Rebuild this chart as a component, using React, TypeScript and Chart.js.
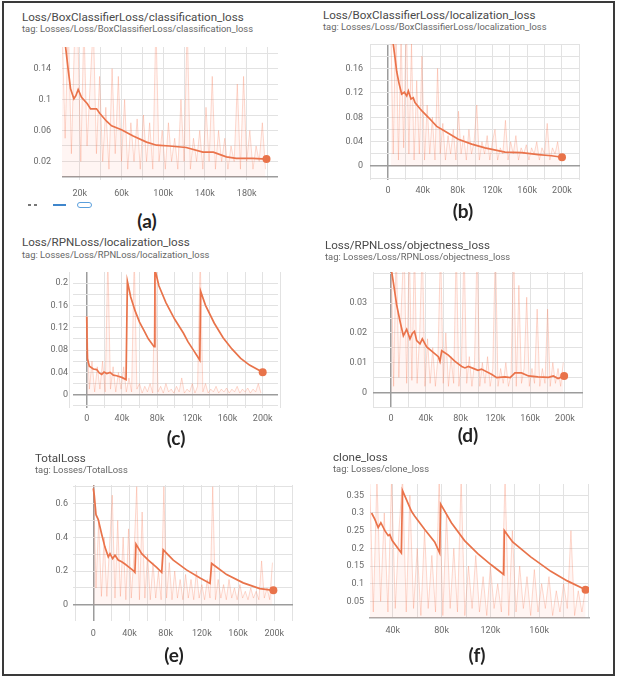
import React, { useEffect, useRef } from "react";
import { Chart, registerables } from "chart.js";
Chart.register(...registerables);

// ---------- DATA (x in thousands of steps) ----------
// (a) BoxClassifierLoss / classification_loss
const stepsA = [5, 8.9, 11.2, 14.4, 16.3, 18.5, 21.7, 27.1, 30.4, 36.1, 39.3, 45.7, 50.5, 60, 71.2, 84, 93.6, 106, 122, 138, 148, 160.5, 170, 186, 199];
const valsA = [0.185, 0.139, 0.114, 0.101, 0.105, 0.113, 0.103, 0.095, 0.088, 0.088, 0.082, 0.072, 0.066, 0.061, 0.053, 0.045, 0.041, 0.04, 0.038, 0.032, 0.032, 0.026, 0.024, 0.024, 0.023];
const rawStartA = 3;
const rawStepA = 3;
const rawA = [0.2, 0.05, 0.2, 0.03, 0.18, 0.2, 0.02, 0.2, 0.04, 0.12, 0.2, 0.03, 0.13, 0.02, 0.09, 0.01, 0.14, 0.03, 0.13, 0.02, 0.1, 0.01, 0.07, 0.02, 0.075, 0.01, 0.08, 0.02, 0.07, 0.01, 0.2, 0.02, 0.06, 0.01, 0.07, 0.02, 0.05, 0.01, 0.1, 0.02, 0.2, 0.01, 0.05, 0.02, 0.06, 0.01, 0.09, 0.02, 0.13, 0.01, 0.06, 0.02, 0.05, 0.01, 0.04, 0.02, 0.12, 0.01, 0.13, 0.02, 0.06, 0.01, 0.04, 0.02, 0.07, 0.01];

// (b) BoxClassifierLoss / localization_loss
const stepsB = [4, 6, 8, 10, 12.6, 15.7, 18.8, 21.5, 23.4, 26.4, 29, 31, 36.8, 38.7, 46.3, 56, 65.5, 80.8, 96.2, 111.5, 134.5, 153.7, 172.8, 188, 200];
const valsB = [0.24, 0.2, 0.178, 0.155, 0.136, 0.118, 0.121, 0.115, 0.123, 0.11, 0.112, 0.104, 0.094, 0.091, 0.08, 0.065, 0.057, 0.044, 0.036, 0.03, 0.023, 0.022, 0.019, 0.017, 0.0145];
const rawStartB = 3;
const rawStepB = 3;
const rawB = [0.25, 0.02, 0.25, 0.01, 0.22, 0.03, 0.25, 0.02, 0.2, 0.01, 0.14, 0.02, 0.18, 0.01, 0.1, 0.02, 0.08, 0.01, 0.16, 0.02, 0.07, 0.01, 0.05, 0.02, 0.06, 0.01, 0.09, 0.02, 0.05, 0.01, 0.06, 0.02, 0.04, 0.1, 0.01, 0.04, 0.02, 0.05, 0.01, 0.04, 0.06, 0.01, 0.03, 0.02, 0.075, 0.01, 0.04, 0.02, 0.05, 0.01, 0.03, 0.02, 0.035, 0.01, 0.03, 0.02, 0.04, 0.01, 0.03, 0.02, 0.07, 0.01, 0.03, 0.02, 0.04, 0.01];

// (c) RPNLoss / localization_loss
const stepsC = [0, 0.7, 3, 7.5, 11.4, 14.3, 17, 19.7, 22.7, 26.5, 30.3, 34, 39.8, 44.7, 46.2, 50, 55, 60, 65, 70, 76.5, 77.5, 82, 90, 100, 110, 115, 122, 128.5, 129.5, 135, 145, 155, 165, 175, 185, 200];
const valsC = [0.14, 0.065, 0.051, 0.046, 0.045, 0.039, 0.0365, 0.0405, 0.038, 0.04, 0.035, 0.034, 0.031, 0.027, 0.203, 0.175, 0.15, 0.13, 0.115, 0.1, 0.086, 0.225, 0.195, 0.165, 0.135, 0.11, 0.095, 0.078, 0.062, 0.185, 0.16, 0.128, 0.102, 0.082, 0.065, 0.053, 0.04];
const rawStartC = 0;
const rawStepC = 3;
const rawC = [0.14, 0.01, 0.06, 0.005, 0.05, 0.01, 0.06, 0.005, 0.25, 0.01, 0.05, 0.005, 0.04, 0.01, 0.05, 0.005, 0.03, 0.005, 0.25, 0.01, 0.02, 0.003, 0.015, 0.005, 0.02, 0.003, 0.25, 0.005, 0.015, 0.003, 0.02, 0.005, 0.01, 0.003, 0.015, 0.005, 0.03, 0.003, 0.01, 0.005, 0.02, 0.003, 0.015, 0.25, 0.005, 0.02, 0.003, 0.01, 0.005, 0.015, 0.003, 0.01, 0.005, 0.012, 0.003, 0.01, 0.005, 0.015, 0.003, 0.01, 0.005, 0.012, 0.003, 0.01, 0.005, 0.02, 0.003];

// (d) RPNLoss / objectness_loss
const stepsD = [0, 2.7, 6.5, 10.3, 14.2, 18, 21.8, 24.5, 27, 29.5, 33.3, 36, 41, 54.4, 56.3, 58.3, 65.9, 73.6, 81.3, 85, 88.9, 96.6, 100, 104, 116, 121.5, 131, 137, 142.5, 150, 158, 169, 181, 186.6, 192, 199];
const valsD = [0.042, 0.037, 0.0294, 0.024, 0.019, 0.0212, 0.018, 0.0198, 0.0205, 0.0174, 0.0163, 0.018, 0.0153, 0.012, 0.0104, 0.014, 0.0125, 0.0104, 0.0087, 0.0082, 0.0087, 0.0078, 0.0074, 0.0078, 0.006, 0.0049, 0.0052, 0.0049, 0.0065, 0.0065, 0.0055, 0.0052, 0.005, 0.0055, 0.0046, 0.0055];
const rawStartD = 0;
const rawStepD = 3;
const rawD = [0.05, 0.002, 0.05, 0.005, 0.03, 0.05, 0.003, 0.05, 0.004, 0.05, 0.003, 0.02, 0.05, 0.002, 0.018, 0.003, 0.015, 0.002, 0.012, 0.05, 0.003, 0.02, 0.002, 0.012, 0.003, 0.05, 0.002, 0.01, 0.05, 0.003, 0.012, 0.002, 0.01, 0.05, 0.002, 0.01, 0.003, 0.012, 0.002, 0.008, 0.05, 0.002, 0.008, 0.003, 0.01, 0.002, 0.006, 0.05, 0.002, 0.036, 0.003, 0.008, 0.032, 0.002, 0.008, 0.003, 0.028, 0.002, 0.008, 0.003, 0.028, 0.002, 0.01, 0.003, 0.008, 0.002, 0.01];

// (e) TotalLoss
const stepsE = [0, 1.1, 3, 5.5, 9.3, 12.9, 16.6, 18.5, 21.4, 24, 27.6, 31.4, 35, 38.7, 44.2, 46, 47.2, 53.5, 60.8, 70, 75.6, 77.3, 88.4, 103, 118, 129, 130.8, 147.4, 165.7, 184, 199];
const valsE = [0.69, 0.65, 0.534, 0.505, 0.418, 0.342, 0.284, 0.303, 0.274, 0.294, 0.265, 0.255, 0.242, 0.226, 0.203, 0.192, 0.36, 0.303, 0.265, 0.222, 0.192, 0.326, 0.265, 0.207, 0.159, 0.127, 0.245, 0.179, 0.13, 0.096, 0.086];
const rawStartE = 0;
const rawStepE = 3;
const rawE = [0.8, 0.1, 0.5, 0.05, 0.4, 0.05, 0.35, 0.65, 0.04, 0.5, 0.05, 0.4, 0.03, 0.45, 0.04, 0.3, 0.7, 0.03, 0.55, 0.04, 0.3, 0.03, 0.25, 0.04, 0.2, 0.03, 0.7, 0.04, 0.25, 0.03, 0.2, 0.04, 0.15, 0.03, 0.18, 0.04, 0.15, 0.03, 0.2, 0.04, 0.12, 0.03, 0.15, 0.04, 0.7, 0.03, 0.15, 0.04, 0.12, 0.03, 0.15, 0.04, 0.1, 0.03, 0.12, 0.04, 0.08, 0.03, 0.1, 0.04, 0.08, 0.03, 0.26, 0.04, 0.1, 0.03, 0.25];

// (f) clone_loss
const stepsF = [22.6, 25.3, 28, 30.2, 33.5, 36.2, 37.5, 39.5, 47, 47.9, 55.3, 58, 66, 74.3, 78.4, 79.2, 88, 98.8, 109.6, 120.6, 130.9, 131.4, 138.2, 153, 169.5, 183, 198];
const valsF = [0.3, 0.282, 0.259, 0.2725, 0.25, 0.236, 0.239, 0.222, 0.187, 0.364, 0.305, 0.291, 0.254, 0.218, 0.187, 0.325, 0.2725, 0.222, 0.185, 0.1535, 0.126, 0.25, 0.218, 0.176, 0.135, 0.108, 0.083];
const rawStartF = 21;
const rawStepF = 3;
const rawF = [0.4, 0.02, 0.4, 0.05, 0.3, 0.02, 0.4, 0.03, 0.25, 0.4, 0.02, 0.35, 0.03, 0.2, 0.01, 0.25, 0.03, 0.18, 0.02, 0.4, 0.01, 0.3, 0.03, 0.2, 0.02, 0.4, 0.01, 0.15, 0.03, 0.18, 0.02, 0.12, 0.01, 0.15, 0.03, 0.1, 0.02, 0.4, 0.01, 0.25, 0.02, 0.15, 0.03, 0.12, 0.01, 0.14, 0.02, 0.1, 0.03, 0.12, 0.01, 0.08, 0.02, 0.1, 0.03, 0.25, 0.01, 0.08, 0.02, 0.09];

// ticks / grid
const xGridA = [20, 40, 60, 80, 100, 120, 140, 160, 180, 200];
const xLabelsA = [20, 60, 100, 140, 180];
const yGridA = [0, 0.02, 0.04, 0.06, 0.08, 0.1, 0.12, 0.14, 0.16];
const yLabelsA = [0.02, 0.06, 0.1, 0.14];

const xGridFull = [-20, 0, 20, 40, 60, 80, 100, 120, 140, 160, 180, 200, 220];
const xLabelsFull = [0, 40, 80, 120, 160, 200];

const yGridB = [-0.02, 0, 0.02, 0.04, 0.06, 0.08, 0.1, 0.12, 0.14, 0.16, 0.18, 0.2];
const yLabelsB = [0, 0.04, 0.08, 0.12, 0.16];

const yGridC = [-0.02, 0, 0.02, 0.04, 0.06, 0.08, 0.1, 0.12, 0.14, 0.16, 0.18, 0.2];
const yLabelsC = [0, 0.04, 0.08, 0.12, 0.16, 0.2];

const yGridD = [-0.005, 0, 0.005, 0.01, 0.015, 0.02, 0.025, 0.03, 0.035, 0.04];
const yLabelsD = [0, 0.01, 0.02, 0.03];

const yGridE = [0, 0.1, 0.2, 0.3, 0.4, 0.5, 0.6, 0.7];
const yLabelsE = [0, 0.2, 0.4, 0.6];

const xGridF = [40, 60, 80, 100, 120, 140, 160, 180, 200];
const xLabelsF = [40, 80, 120, 160];
const yGridF = [0.05, 0.1, 0.15, 0.2, 0.25, 0.3, 0.35];
const yLabelsF = [0.05, 0.1, 0.15, 0.2, 0.25, 0.3, 0.35];

// ---------- STYLE ----------
const ORANGE = "#e8734a";
const RAW = "rgba(248,120,82,0.27)";
const RAW_FILL = "rgba(248,120,82,0.07)";
const GRID = "#e2e2e2";
const ZERO = "#9c9c9c";
const FONT = "Roboto, 'DejaVu Sans', sans-serif";

type Spec = {
  key: string;
  title: string;
  tag: string;
  caption: string;
  titleX: number;
  titleY: number;
  tagY: number;
  capX: number;
  capY: number;
  area: [number, number, number, number]; // L T R B
  xMin: number; xMax: number; yMin: number; yMax: number;
  steps: number[]; vals: number[];
  rawStart: number; rawStep: number; raw: number[];
  xGrid: number[]; xLabels: number[]; yGrid: number[]; yLabels: number[];
  yPad: number; xPad: number; bottomBorder?: boolean;
};

const specs: Spec[] = [
  { key: "a", title: "Loss/BoxClassifierLoss/classification_loss", tag: "tag: Losses/Loss/BoxClassifierLoss/classification_loss", caption: "(a)",
    titleX: 22, titleY: 16.5, tagY: 29, capX: 147, capY: 221, area: [62, 43, 278, 180],
    xMin: 3, xMax: 210, yMin: -0.004, yMax: 0.168, steps: stepsA, vals: valsA, rawStart: rawStartA, rawStep: rawStepA, raw: rawA,
    xGrid: xGridA, xLabels: xLabelsA, yGrid: yGridA, yLabels: yLabelsA, yPad: 11, xPad: 8 },
  { key: "b", title: "Loss/BoxClassifierLoss/localization_loss", tag: "tag: Losses/Loss/BoxClassifierLoss/localization_loss", caption: "(b)",
    titleX: 323, titleY: 15, tagY: 27, capX: 463, capY: 211, area: [370, 40, 580, 180],
    xMin: -20.7, xMax: 220.7, yMin: -0.0227, yMax: 0.2, steps: stepsB, vals: valsB, rawStart: rawStartB, rawStep: rawStepB, raw: rawB,
    xGrid: xGridFull, xLabels: xLabelsFull, yGrid: yGridB, yLabels: yLabelsB, yPad: 7, xPad: 5 },
  { key: "c", title: "Loss/RPNLoss/localization_loss", tag: "tag: Losses/Loss/RPNLoss/localization_loss", caption: "(c)",
    titleX: 22, titleY: 242, tagY: 255, capX: 176, capY: 438, area: [73, 268, 278, 408],
    xMin: -15.6, xMax: 217.4, yMin: -0.0238, yMax: 0.2197, steps: stepsC, vals: valsC, rawStart: rawStartC, rawStep: rawStepC, raw: rawC,
    xGrid: xGridFull, xLabels: xLabelsFull, yGrid: yGridC, yLabels: yLabelsC, yPad: 5, xPad: 5 },
  { key: "d", title: "Loss/RPNLoss/objectness_loss", tag: "tag: Losses/Loss/RPNLoss/objectness_loss", caption: "(d)",
    titleX: 325, titleY: 245, tagY: 257, capX: 468, capY: 435, area: [373, 268, 583, 408],
    xMin: -20.7, xMax: 220.7, yMin: -0.0053, yMax: 0.0405, steps: stepsD, vals: valsD, rawStart: rawStartD, rawStep: rawStepD, raw: rawD,
    xGrid: xGridFull, xLabels: xLabelsFull, yGrid: yGridD, yLabels: yLabelsD, yPad: 6, xPad: 5 },
  { key: "e", title: "TotalLoss", tag: "tag: Losses/TotalLoss", caption: "(e)",
    titleX: 35, titleY: 458, tagY: 470, capX: 174, capY: 655, area: [73, 481, 293, 621],
    xMin: -22.4, xMax: 220.7, yMin: -0.096, yMax: 0.71, steps: stepsE, vals: valsE, rawStart: rawStartE, rawStep: rawStepE, raw: rawE,
    xGrid: xGridFull, xLabels: xLabelsFull, yGrid: yGridE, yLabels: yLabelsE, yPad: 5, xPad: 7 },
  { key: "f", title: "clone_loss", tag: "tag: Losses/clone_loss", caption: "(f)",
    titleX: 333, titleY: 457, tagY: 469, capX: 477, capY: 655, area: [370, 480, 589, 618],
    xMin: 21.3, xMax: 200.8, yMin: 0.003, yMax: 0.382, steps: stepsF, vals: valsF, rawStart: rawStartF, rawStep: rawStepF, raw: rawF,
    xGrid: xGridF, xLabels: xLabelsF, yGrid: yGridF, yLabels: yLabelsF, yPad: 6, xPad: 7, bottomBorder: true },
];

const Y_W = 40;
const X_H = 26;
const PAD_R = 4;

const hasVal = (arr: number[], v: number) => arr.some((a) => Math.abs(a - v) < 1e-9);
const fmtY = (v: number) => String(Number(v.toFixed(4)));
const fmtX = (v: number) => (Math.abs(v) < 1e-9 ? "0" : `${Math.round(v)}k`);

function Plot({ s }: { s: Spec }) {
  const ref = useRef<HTMLCanvasElement>(null);
  const [L, T, R, B] = s.area;
  const w = R - L + Y_W + PAD_R;
  const h = B - T + X_H;
  useEffect(() => {
    const rawPts = s.raw.map((v, i) => ({ x: s.rawStart + i * s.rawStep, y: v }));
    const smPts = s.steps.map((x, i) => ({ x, y: s.vals[i] }));
    const last = smPts.length - 1;
    const chart = new Chart(ref.current as HTMLCanvasElement, {
      type: "line",
      data: {
        datasets: [
          { data: rawPts, borderColor: RAW, backgroundColor: RAW_FILL, borderWidth: 1, pointRadius: 0, tension: 0, fill: "origin" },
          {
            data: smPts, borderColor: ORANGE, borderWidth: 1.7, tension: 0, fill: false,
            pointRadius: (ctx: any) => (ctx.dataIndex === last ? 4 : 0),
            pointBackgroundColor: ORANGE, pointBorderWidth: 0, pointBorderColor: ORANGE,
          },
        ],
      },
      options: {
        animation: false,
        responsive: false,
        devicePixelRatio: 1,
        layout: { padding: { top: 0, left: 0, right: PAD_R, bottom: 0 } },
        plugins: { legend: { display: false }, tooltip: { enabled: false } },
        scales: {
          x: {
            type: "linear", min: s.xMin, max: s.xMax,
            afterFit: (sc: any) => { sc.height = X_H; sc.paddingLeft = 0; sc.paddingRight = 0; },
            afterBuildTicks: (sc: any) => { sc.ticks = s.xGrid.map((v) => ({ value: v })); },
            grid: {
              drawTicks: false,
              color: (c: any) => (c.tick && Math.abs(c.tick.value) < 1e-9 ? ZERO : GRID),
              lineWidth: (c: any) => (c.tick && Math.abs(c.tick.value) < 1e-9 ? 1.5 : 1),
            },
            border: s.bottomBorder ? { display: true, color: "#aaaaaa", width: 1.5 } : { display: false },
            ticks: {
              autoSkip: false, maxRotation: 0, padding: s.xPad, color: "#6a6a6a",
              font: { family: FONT, size: 9 },
              callback: (v: any) => (hasVal(s.xLabels, Number(v)) ? fmtX(Number(v)) : ""),
            },
          },
          y: {
            type: "linear", min: s.yMin, max: s.yMax,
            afterFit: (sc: any) => { sc.width = Y_W; sc.paddingTop = 0; sc.paddingBottom = 0; },
            afterBuildTicks: (sc: any) => { sc.ticks = s.yGrid.map((v) => ({ value: v })); },
            grid: {
              drawTicks: false,
              color: (c: any) => (c.tick && Math.abs(c.tick.value) < 1e-9 ? ZERO : GRID),
              lineWidth: (c: any) => (c.tick && Math.abs(c.tick.value) < 1e-9 ? 1.5 : 1),
            },
            border: { display: false },
            ticks: {
              autoSkip: false, padding: s.yPad, color: "#6a6a6a",
              font: { family: FONT, size: 9 },
              callback: (v: any) => (hasVal(s.yLabels, Number(v)) ? fmtY(Number(v)) : ""),
            },
          },
        },
      } as any,
    });
    return () => chart.destroy();
  }, []);
  return (
    <canvas
      ref={ref}
      width={w}
      height={h}
      style={{ position: "absolute", left: L - Y_W, top: T, width: w, height: h }}
    />
  );
}

function Panel({ s }: { s: Spec }) {
  return (
    <>
      <div style={{ position: "absolute", left: s.titleX, top: s.titleY - 7, fontFamily: FONT, fontSize: 11.6, lineHeight: "14px", color: "#4a4a4a", whiteSpace: "nowrap" }}>
        {s.title}
      </div>
      <div style={{ position: "absolute", left: s.titleX, top: s.tagY - 6, fontFamily: FONT, fontSize: 9.4, lineHeight: "12px", color: "#666", whiteSpace: "nowrap" }}>
        {s.tag}
      </div>
      <Plot s={s} />
      <div style={{ position: "absolute", left: s.capX - 30, width: 60, top: s.capY - 12, textAlign: "center", fontFamily: "Lato, 'Open Sans', sans-serif", fontWeight: 700, fontSize: 19, lineHeight: "24px", color: "#222" }}>
        {s.caption}
      </div>
    </>
  );
}

export default function App() {
  return (
    <div style={{ position: "absolute", left: 0, top: 0, width: 617, height: 679, background: "#fff", overflow: "hidden" }}>
      <div style={{ position: "absolute", left: 2, top: 1, width: 613, height: 675, border: "2px solid #3a3a3a", boxSizing: "border-box" }} />
      {specs.map((s) => (
        <Panel key={s.key} s={s} />
      ))}
      {/* TensorBoard control icons under panel (a) */}
      <div style={{ position: "absolute", left: 28, top: 204, width: 3, height: 2, background: "#777" }} />
      <div style={{ position: "absolute", left: 34, top: 204, width: 3, height: 2, background: "#777" }} />
      <div style={{ position: "absolute", left: 53, top: 204, width: 13, height: 2, background: "#3f86cc" }} />
      <div style={{ position: "absolute", left: 77, top: 202, width: 15, height: 6, border: "1.5px solid #5a9fdc", borderRadius: 3, boxSizing: "border-box" }} />
    </div>
  );
}
